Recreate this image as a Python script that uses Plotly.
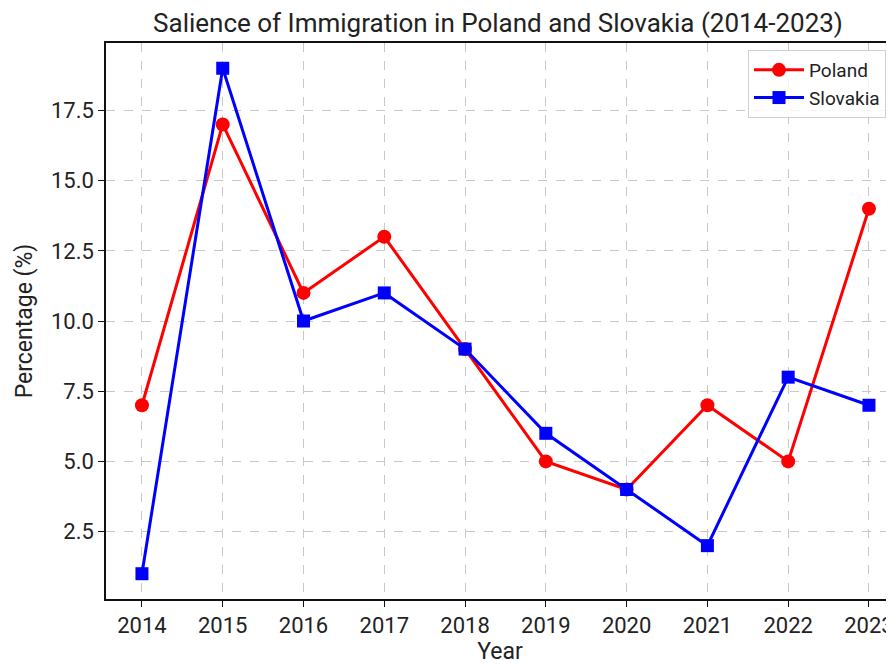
import plotly.graph_objects as go

years = [2014, 2015, 2016, 2017, 2018, 2019, 2020, 2021, 2022, 2023]
poland = [7, 17, 11, 13, 9, 5, 4, 7, 5, 14]
slovakia = [1, 19, 10, 11, 9, 6, 4, 2, 8, 7]
y_ticks = [2.5, 5.0, 7.5, 10.0, 12.5, 15.0, 17.5]

FONT = "Roboto"
TXT = "#222222"

fig = go.Figure()
fig.add_trace(go.Scatter(x=years, y=poland, mode="lines+markers", name="Poland",
                         line=dict(color="#ff0000", width=3),
                         marker=dict(symbol="circle", size=14, color="#ff0000")))
fig.add_trace(go.Scatter(x=years, y=slovakia, mode="lines+markers", name="Slovakia",
                         line=dict(color="#0000ff", width=3),
                         marker=dict(symbol="square", size=13, color="#0000ff")))

# page body has an 8px margin, so the figure is placed at (8, 8)
W, H = 886, 657
L, R, T, B = 98, 0, 35, 66

fig.update_layout(
    width=W, height=H,
    margin=dict(l=L, r=R, t=T, b=B, autoexpand=False),
    paper_bgcolor="white", plot_bgcolor="white",
    font=dict(family=FONT, color=TXT, size=20),
    title=dict(text="Salience of Immigration in Poland and Slovakia (2014-2023)",
               x=490 / W, xanchor="center", xref="container",
               y=1 - 15 / H, yanchor="middle", yref="container",
               font=dict(size=26, family=FONT, color=TXT)),
    xaxis=dict(range=[2013.555, 2023.31], tickvals=years, ticktext=[str(y) for y in years],
               showline=True, linecolor="#111111", linewidth=1.5, mirror=True,
               ticks="outside", ticklen=6, tickcolor="#111111", tickwidth=1.2,
               showgrid=True, gridcolor="#c8c8c8", griddash="dash", gridwidth=1,
               zeroline=False,
               title=dict(text="Year", font=dict(size=23), standoff=8),
               tickfont=dict(size=22)),
    yaxis=dict(range=[0.1, 19.9], tickvals=y_ticks, tickformat=".1f",
               showline=True, linecolor="#111111", linewidth=1.5, mirror=False,
               ticks="outside", ticklen=6, tickcolor="#111111", tickwidth=1.2,
               showgrid=True, gridcolor="#c8c8c8", griddash="dash", gridwidth=1,
               zeroline=False,
               title=dict(text="Percentage (%)", font=dict(size=23), standoff=12),
               tickfont=dict(size=22)),
    legend=dict(x=(748 - 106) / 788, y=1 - 7 / 556, xanchor="left", yanchor="top",
                bgcolor="rgba(255,255,255,0.8)", bordercolor="#d0d0d0", borderwidth=1,
                font=dict(size=19), itemwidth=50),
    showlegend=True,
)

fig.write_html("out.html")
